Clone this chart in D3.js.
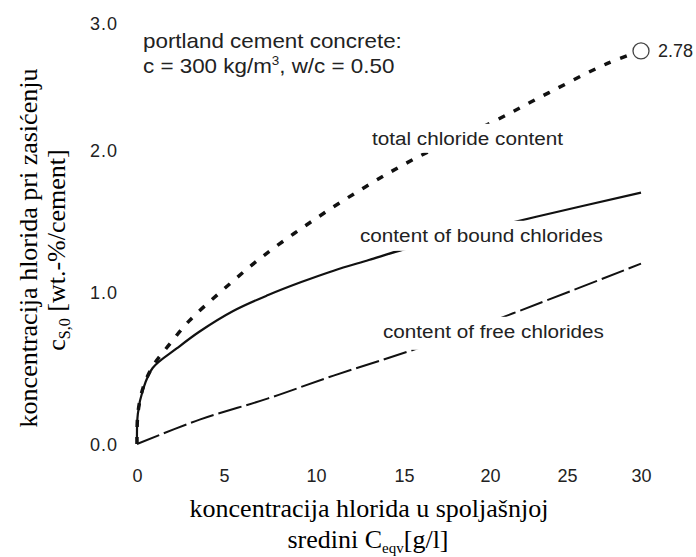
<!DOCTYPE html>
<html lang="en">
<head>
<meta charset="UTF-8">
<title>Chloride content</title>
<style>
    body { margin: 0; background: #fff; }
    text.sans { font-family: "Liberation Sans", Arial, sans-serif; fill: #222; }
    text.serif { font-family: "Liberation Serif", "Times New Roman", serif; fill: #000; }
</style>
</head>
<body>
<script src="https://d3js.org/d3.v7.min.js"></script>
<script>
    const width = 696, height = 557;

    // values: x in g/l, y in wt.-%/cement
    const xTicks = [0, 5, 10, 15, 20, 25, 30];
    const yTicks = [0, 1, 2, 3];

    const totalCl = [[0, 0], [0.05, 0.2], [0.35, 0.37], [0.9, 0.51], [1.9, 0.66], [3, 0.81], [4.8, 1.0],
        [7, 1.24], [9.8, 1.5], [12.8, 1.74], [15.8, 1.95], [20, 2.21], [23.8, 2.45], [27.7, 2.68], [30, 2.78]];
    const boundCl = [[0, 0], [0.05, 0.2], [0.35, 0.36], [0.9, 0.5], [2.3, 0.63], [3.6, 0.74], [5.5, 0.875],
        [7.4, 0.98], [9.2, 1.07], [11, 1.15], [13, 1.225], [15, 1.3], [20, 1.45], [23, 1.53], [30, 1.7]];
    const freeCl = [[0, 0], [3.6, 0.16], [7.4, 0.3], [11, 0.45], [15.8, 0.63], [21.5, 0.86], [30, 1.2]];
    const saturation = [30, 2.78];

    const svg = d3.select("body").append("svg")
        .attr("width", width)
        .attr("height", height);

    // the scan is a bit uneven, so the scales follow the printed tick positions
    const x = d3.scaleLinear().domain(xTicks).range([137, 224, 316, 404, 490, 567, 641]);
    const y = d3.scaleLinear().domain(yTicks).range([444, 292, 150, 23]);

    const line = d3.line()
        .x(d => x(d[0]))
        .y(d => y(d[1]))
        .curve(d3.curveCatmullRom.alpha(0.5));

    // axes: labels only, no lines
    const xAxis = svg.append("g")
        .attr("transform", "translate(0,476)")
        .call(d3.axisBottom(x).tickValues(xTicks).tickSize(0).tickPadding(0));
    const yAxis = svg.append("g")
        .attr("transform", "translate(118,0)")
        .call(d3.axisLeft(y).tickValues(yTicks).tickSize(0).tickPadding(0).tickFormat(d3.format(".1f")));
    svg.selectAll(".domain").remove();
    xAxis.selectAll("text").attr("y", 0).attr("dy", "0.36em");
    yAxis.selectAll("text").attr("x", 0).attr("dy", "0.36em");
    svg.selectAll(".tick text")
        .attr("class", "sans")
        .attr("fill", "#222")
        .style("font-size", "18px");
    yAxis.selectAll("text").style("letter-spacing", "1px");

    // curves
    svg.append("path")
        .datum(freeCl)
        .attr("d", line)
        .attr("fill", "none")
        .attr("stroke", "#111")
        .attr("stroke-width", 2)
        .attr("stroke-dasharray", "24,5");

    svg.append("path")
        .datum(boundCl)
        .attr("d", line)
        .attr("fill", "none")
        .attr("stroke", "#111")
        .attr("stroke-width", 2.2);

    svg.append("path")
        .datum(totalCl)
        .attr("d", line)
        .attr("fill", "none")
        .attr("stroke", "#111")
        .attr("stroke-width", 3.5)
        .attr("stroke-dasharray", "7,10");

    svg.append("circle")
        .attr("cx", x(saturation[0]))
        .attr("cy", y(saturation[1]))
        .attr("r", 8)
        .attr("fill", "#fff")
        .attr("stroke", "#444")
        .attr("stroke-width", 1.3);

    svg.append("text")
        .attr("class", "sans")
        .attr("x", 658)
        .attr("y", y(saturation[1]) + 6.5)
        .style("font-size", "18px")
        .text(saturation[1].toFixed(2));

    // curve labels sit on white boxes that blank the lines behind them
    function label(px, py, txt, padBottom) {
        const g = svg.append("g").attr("transform", `translate(${px},${py}) scale(1.09,1)`);
        const t = g.append("text")
            .attr("class", "sans")
            .style("font-size", "19px")
            .text(txt);
        const b = t.node().getBBox();
        g.insert("rect", "text")
            .attr("x", b.x - 3)
            .attr("y", b.y - 4)
            .attr("width", b.width + 6)
            .attr("height", b.height + 4 + padBottom)
            .attr("fill", "#fff");
        return g;
    }

    label(372, 145, "total chloride content", 4);
    label(360, 242, "content of bound chlorides", 5);
    label(383, 338, "content of free chlorides", 8);

    const note = svg.append("g").attr("transform", "translate(143,0) scale(1.12,1)");
    note.append("text")
        .attr("class", "sans")
        .attr("y", 48)
        .style("font-size", "20px")
        .text("portland cement concrete:");
    const note2 = note.append("text")
        .attr("class", "sans")
        .attr("y", 73)
        .style("font-size", "20px");
    note2.append("tspan").text("c = 300 kg/m");
    note2.append("tspan").attr("dy", -8).style("font-size", "12px").text("3");
    note2.append("tspan").attr("dy", 8).text(", w/c = 0.50");

    // axis titles
    svg.append("text")
        .attr("class", "serif")
        .attr("text-anchor", "middle")
        .attr("transform", "translate(37,248) rotate(-90)")
        .style("font-size", "26px")
        .text("koncentracija hlorida pri zasićenju");

    const yt2 = svg.append("text")
        .attr("class", "serif")
        .attr("text-anchor", "middle")
        .attr("transform", "translate(65,250) rotate(-90)")
        .style("font-size", "26px");
    yt2.append("tspan").text("c");
    yt2.append("tspan").attr("dy", 5).style("font-size", "16px").text("S,0");
    yt2.append("tspan").attr("dy", -5).text(" [wt.-%/cement]");

    svg.append("text")
        .attr("class", "serif")
        .attr("text-anchor", "middle")
        .attr("x", 369)
        .attr("y", 517)
        .style("font-size", "26px")
        .text("koncentracija hlorida u spoljašnjoj");

    const xt2 = svg.append("text")
        .attr("class", "serif")
        .attr("text-anchor", "middle")
        .attr("x", 368)
        .attr("y", 548)
        .style("font-size", "26px");
    xt2.append("tspan").text("sredini C");
    xt2.append("tspan").attr("dy", 5).style("font-size", "15px").text("eqv");
    xt2.append("tspan").attr("dy", -5).text("[g/l]");
</script>
</body>
</html>
